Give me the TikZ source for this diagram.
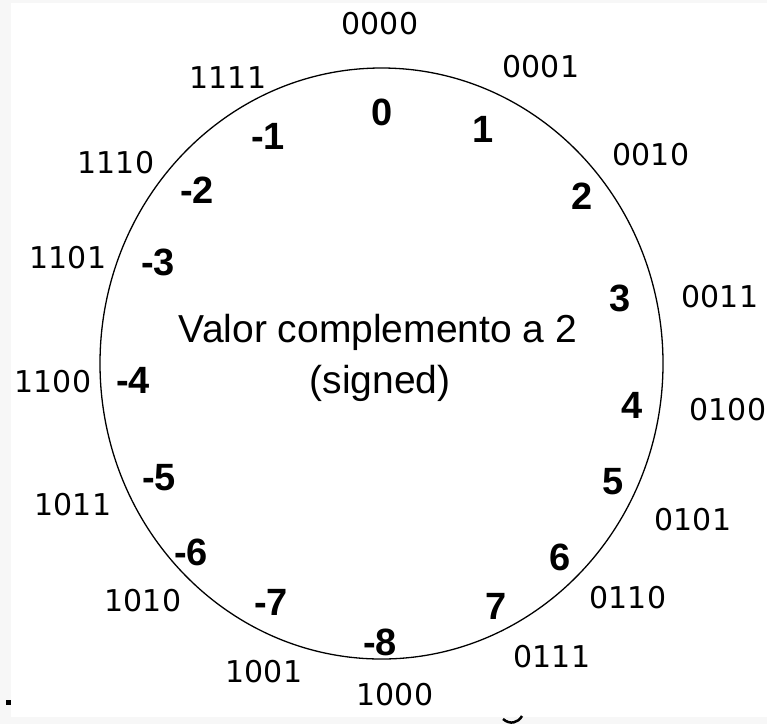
\documentclass[tikz,border=0pt]{standalone}
\usepackage{fontspec}
\setmainfont{Liberation Sans}
\newfontfamily\binfont{DejaVu Sans}
\newfontfamily\numfont{Liberation Sans}
\definecolor{edgegray}{HTML}{F7F7F7}
\tikzset{
  binlbl/.style={font=\binfont\fontsize{30}{33}\selectfont, inner sep=0pt},
  vallbl/.style={font=\numfont\bfseries\fontsize{38}{42}\selectfont, inner sep=0pt},
  titlelbl/.style={font=\fontsize{39}{48}\selectfont, inner sep=0pt, align=center},
  ring/.style={draw=black, line width=1.3pt}
}
\begin{document}
\begin{tikzpicture}[x=1pt,y=-1pt]
\useasboundingbox (0,0) rectangle (767,724);
\fill[edgegray] (0,0) rectangle (767,724);
\fill[white] (11,3) rectangle (767,717);
\fill[black] (6,700) rectangle (11,705);
\draw[line width=2.5pt] (503,719) .. controls (510,725) and (518,723) .. (522,716);
% ring
\draw[ring] (381.5,363.5) ellipse [x radius=281.5pt, y radius=295.5pt];
% title
\node[titlelbl] (title) at (378,332) {Valor complemento a 2};
\node[titlelbl] (signed) at (380,383) {(signed)};
% values
\node[vallbl] (v0) at (382,112) {0};
\node[vallbl] (v1) at (483,129) {1};
\node[vallbl] (v2) at (582,196) {2};
\node[vallbl] (v3) at (620,298) {3};
\node[vallbl] (v4) at (632,405) {4};
\node[vallbl] (v5) at (613,482) {5};
\node[vallbl] (v6) at (560,557) {6};
\node[vallbl] (v7) at (496,606) {7};
\node[vallbl] (vm8) at (380,642) {-8};
\node[vallbl] (vm7) at (271,602) {-7};
\node[vallbl] (vm6) at (191,552) {-6};
\node[vallbl] (vm5) at (159,478) {-5};
\node[vallbl] (vm4) at (133,380) {-4};
\node[vallbl] (vm3) at (158,262) {-3};
\node[vallbl] (vm2) at (197,190) {-2};
\node[vallbl] (vm1) at (268,136) {-1};
% binary codes
\node[binlbl] (b0000) at (380,24) {0000};
\node[binlbl] (b0001) at (541,67) {0001};
\node[binlbl] (b0010) at (651,155) {0010};
\node[binlbl] (b0011) at (720,297) {0011};
\node[binlbl] (b0100) at (728,410) {0100};
\node[binlbl] (b0101) at (693,520) {0101};
\node[binlbl] (b0110) at (628,598) {0110};
\node[binlbl] (b0111) at (552,657) {0111};
\node[binlbl] (b1000) at (395,695) {1000};
\node[binlbl] (b1001) at (264,672) {1001};
\node[binlbl] (b1010) at (143,601) {1010};
\node[binlbl] (b1011) at (73,505) {1011};
\node[binlbl] (b1100) at (53,382) {1100};
\node[binlbl] (b1101) at (68,258) {1101};
\node[binlbl] (b1110) at (116,163) {1110};
\node[binlbl] (b1111) at (228,78) {1111};
\end{tikzpicture}
\end{document}
